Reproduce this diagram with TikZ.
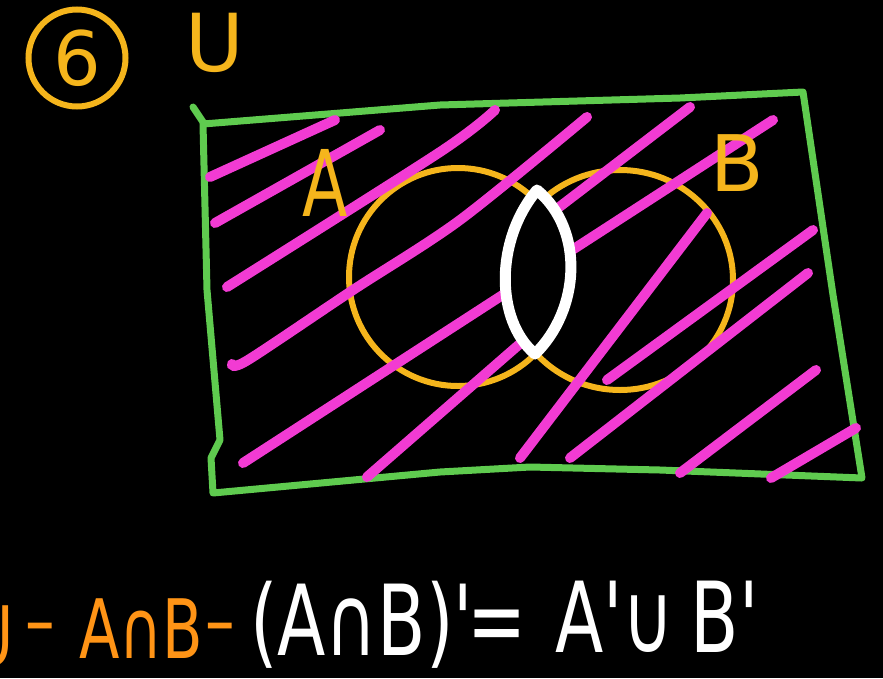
\documentclass[tikz,border=0pt]{standalone}
\usepackage{fontspec}
\newfontfamily\hand{DejaVu Sans}
\newfontfamily\narrowhand[FakeStretch=0.72]{DejaVu Sans}
\definecolor{boxgreen}{HTML}{5FCB4F}
\definecolor{hatchpink}{HTML}{F23BD3}
\definecolor{setyellow}{HTML}{F5B51C}
\definecolor{noteorange}{HTML}{FF9416}
\begin{document}
\begin{tikzpicture}[x=1pt,y=-1pt,
  frame/.style={boxgreen,line width=7pt,line cap=round,line join=round},
  hatch/.style={hatchpink,line width=10pt,line cap=round},
  setline/.style={setyellow,line width=6pt},
  lensline/.style={white,line width=11pt,line join=round},
  settext/.style={text=setyellow,inner sep=0pt},
  notetext/.style={text=noteorange,inner sep=0pt,font=\narrowhand\fontsize{82}{82}\selectfont},
  lawtext/.style={text=white,inner sep=0pt,font=\narrowhand\fontsize{98}{98}\selectfont}]
\fill[black] (0,0) rectangle (883,678);
\useasboundingbox (0,0) rectangle (883,678);
\node[settext,draw=setyellow,line width=6pt,circle,minimum size=97pt,font=\hand\fontsize{75}{75}\selectfont] (six) at (77,58) {6};
\node[settext,font=\hand\fontsize{80}{80}\selectfont] (univ) at (215,43) {U};
\draw[frame] (193,107) -- (203,122);
\draw[frame] (203,124) -- (440,105) -- (680,98) -- (803,92) -- (833,295) -- (862,478)
  -- (660,470) -- (530,467) -- (440,472) -- (213,493) -- (211,458) -- (220,440) -- (207,290) -- cycle;
\draw[setline] (458,277) circle [radius=109];
\draw[setline] (620,280) ellipse [x radius=113, y radius=110];
\draw[hatch] (210,177) -- (335,120);
\draw[hatch] (215,223) -- (380,130);
\draw[hatch] plot[smooth] coordinates {(227,287) (440,152) (495,110)};
\draw[hatch] plot[smooth] coordinates {(232,364) (248,360) (353,290) (460,220) (587,117)};
\draw[hatch] (243,463) -- (773,120);
\draw[hatch] (367,477) -- (522,342);
\draw[hatch] (558,208) -- (690,107);
\draw[hatch] (520,458) -- (707,213);
\draw[hatch] (607,380) -- (813,230);
\draw[hatch] (570,458) -- (808,273);
\draw[hatch] (680,473) -- (816,370);
\draw[hatch] (771,478) -- (856,428);
\fill[black] (537,190) .. controls (495,240) and (495,320) .. (535,354) .. controls (580,310) and (585,230) .. (537,190) -- cycle;
\draw[lensline] (537,190) .. controls (495,240) and (495,320) .. (535,354) .. controls (580,310) and (585,230) .. (537,190) -- cycle;
\node[settext,font=\narrowhand\fontsize{92}{92}\selectfont] (labA) at (325,183) {A};
\node[settext,font=\hand\fontsize{78}{78}\selectfont] (labB) at (737,163) {B};
\node[notetext,anchor=base east] (uleft) at (14,665) {U};
\node[notetext,anchor=base] (dashone) at (40,648) {–};
\node[notetext,anchor=base west] (capnote) at (79,658) {A∩B};
\node[notetext,anchor=base] (dashtwo) at (220,648) {–};
\node[lawtext,anchor=base west] (lhs) at (250,655) {(A∩B)'};
\node[lawtext] (eq) at (497,632) {=};
\node[lawtext,anchor=base west] (rhs) at (555,652) {A'∪\,B'};
\end{tikzpicture}
\end{document}
